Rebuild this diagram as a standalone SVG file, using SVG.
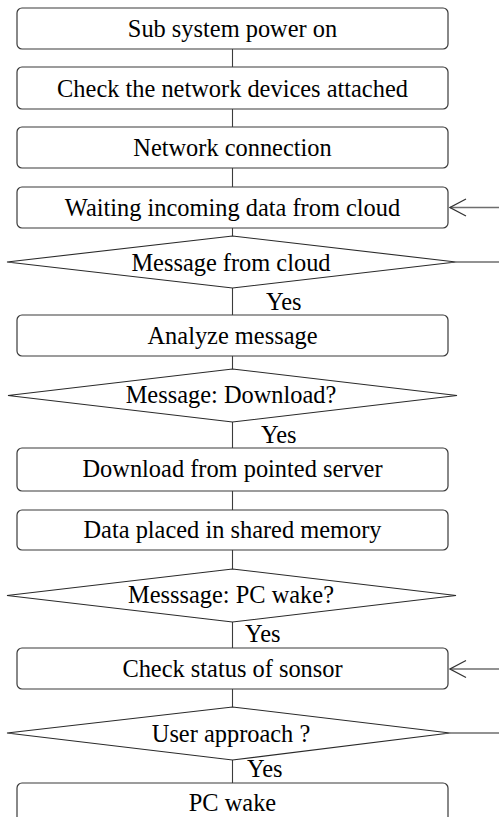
<svg xmlns="http://www.w3.org/2000/svg" width="499" height="817" viewBox="0 0 499 817">
  <defs>
    <style>
      .box { fill: #ffffff; stroke: #3a3a3a; stroke-width: 1.2; }
      .dec { fill: #ffffff; stroke: #2a2a2a; stroke-width: 1.1; }
      .lbl { font-family: 'Liberation Serif', serif; font-size: 24.4px; fill: #000000; text-anchor: middle; }
      .yes { font-family: 'Liberation Serif', serif; font-size: 24.4px; fill: #000000; }
      .wire { fill: none; stroke: #3c3c3c; stroke-width: 1.1; }
      .loop { fill: none; stroke: #6e6e6e; stroke-width: 1.4; }
    </style>
    <marker id="open" viewBox="0 0 18 20" refX="17" refY="10" markerWidth="18" markerHeight="20" markerUnits="userSpaceOnUse" orient="auto">
      <path d="M1,1.5 L17,10 L1,18.5" fill="none" stroke="#333333" stroke-width="1.2"/>
    </marker>
  </defs>
  <rect width="499" height="817" fill="#ffffff"/>

  <!-- connectors -->
  <g id="connectors">
    <path class="wire" d="M232.5,49 V67 M232.5,109 V127 M232.5,168 V187 M232.5,228 V236 M232.5,288 V315 M232.5,356 V369 M232.5,422 V448 M232.5,491 V510 M232.5,550 V569 M232.5,622 V648 M232.5,689 V707 M232.5,760 V783"/>
    <!-- return paths from the right margin -->
    <path class="loop" d="M456,262 H499"/>
    <path class="loop" d="M499,207.5 H450" marker-end="url(#open)"/>
    <path class="loop" d="M450,733 H499"/>
    <path class="loop" d="M499,669 H450" marker-end="url(#open)"/>
    <text class="yes" x="266" y="310">Yes</text>
    <text class="yes" x="261" y="443">Yes</text>
    <text class="yes" x="245" y="642">Yes</text>
    <text class="yes" x="247" y="777">Yes</text>
  </g>

  <g id="power-on">
    <rect class="box" x="17" y="8" width="431" height="41" rx="5"/>
    <text class="lbl" x="232.5" y="36.5">Sub system power on</text>
  </g>
  <g id="check-devices">
    <rect class="box" x="17" y="67" width="431" height="42" rx="5"/>
    <text class="lbl" x="232.5" y="97">Check the network devices attached</text>
  </g>
  <g id="network-connection">
    <rect class="box" x="17" y="127" width="431" height="41" rx="5"/>
    <text class="lbl" x="232.5" y="156">Network connection</text>
  </g>
  <g id="waiting-data">
    <rect class="box" x="17" y="187" width="431" height="41" rx="5"/>
    <text class="lbl" x="232.5" y="216">Waiting incoming data from cloud</text>
  </g>
  <g id="message-from-cloud">
    <polygon class="dec" points="232.5,236 456,262 232.5,288 7,262"/>
    <text class="lbl" x="231" y="271">Message from cloud</text>
  </g>
  <g id="analyze-message">
    <rect class="box" x="17" y="315" width="431" height="41" rx="5"/>
    <text class="lbl" x="232.5" y="344">Analyze message</text>
  </g>
  <g id="message-download">
    <polygon class="dec" points="232.5,369 457,395.5 232.5,422 8,395.5"/>
    <text class="lbl" x="231" y="403">Message: Download?</text>
  </g>
  <g id="download-server">
    <rect class="box" x="17" y="448" width="431" height="43" rx="5"/>
    <text class="lbl" x="232.5" y="477">Download from pointed server</text>
  </g>
  <g id="shared-memory">
    <rect class="box" x="17" y="510" width="431" height="40" rx="5"/>
    <text class="lbl" x="232.5" y="538">Data placed in shared memory</text>
  </g>
  <g id="message-pc-wake">
    <polygon class="dec" points="232.5,569 456,595.5 232.5,622 7,595.5"/>
    <text class="lbl" x="231" y="603">Messsage: PC wake?</text>
  </g>
  <g id="check-sensor">
    <rect class="box" x="17" y="648" width="431" height="41" rx="5"/>
    <text class="lbl" x="232.5" y="677">Check status of sonsor</text>
  </g>
  <g id="user-approach">
    <polygon class="dec" points="232.5,707 450,733 232.5,760 7,733"/>
    <text class="lbl" x="231" y="742">User approach ?</text>
  </g>
  <g id="pc-wake">
    <rect class="box" x="17" y="783" width="431" height="42" rx="5"/>
    <text class="lbl" x="232.5" y="811">PC wake</text>
  </g>
</svg>
